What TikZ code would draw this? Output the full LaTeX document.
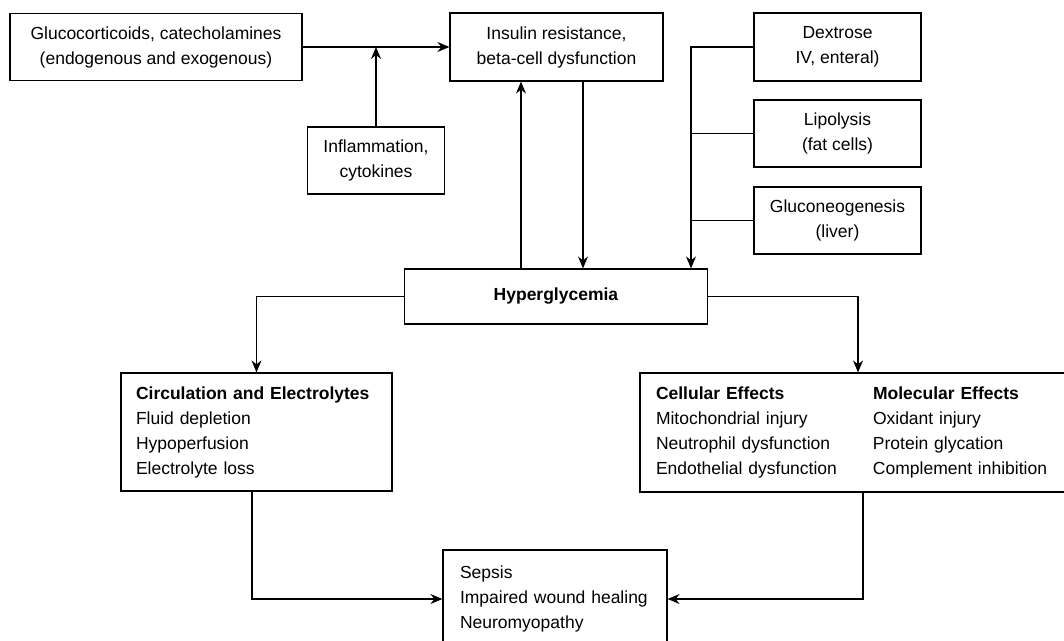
\documentclass[tikz,border=0pt]{standalone}
\usepackage{fontspec}
\setmainfont{Liberation Sans}
\usetikzlibrary{arrows.meta}
\begin{document}
\begin{tikzpicture}[x=1pt,y=-1pt,
  box/.style={draw, line width=1.2pt, inner sep=0pt, align=center, font=\fontsize{17.5}{25}\selectfont},
  listbox/.style={box, align=left},
  conn/.style={line width=1.2pt},
  arr/.style={conn, -{Stealth[length=12pt,width=10pt,inset=4pt]}}]
\useasboundingbox (0,0) rectangle (1064,640);
\clip (0,0) rectangle (1064,640);
% top row
\node[box, minimum width=292pt, minimum height=67pt] (gluco) at (156,47) {Glucocorticoids, catecholamines\\(endogenous and exogenous)};
\node[box, minimum width=213pt, minimum height=68pt] (insulin) at (556.5,47) {Insulin resistance,\\beta-cell dysfunction};
\node[box, minimum width=137pt, minimum height=67pt] (infl) at (376,160.5) {Inflammation,\\cytokines};
\node[box, minimum width=167pt, minimum height=68pt] (dex) at (837.5,47) {Dextrose\\IV, enteral)};
\node[box, minimum width=167pt, minimum height=67pt] (lipo) at (837.5,133.5) {Lipolysis\\(fat cells)};
\node[box, minimum width=167pt, minimum height=67pt] (gneo) at (837.5,220.5) {Gluconeogenesis\\(liver)};
% center
\node[box, minimum width=303pt, minimum height=55pt] (hyper) at (556,296.5) {\textbf{Hyperglycemia}};
% effects
\node[listbox, text width=241pt, inner xsep=15pt, minimum height=118pt] (circ) at (256.5,432) {\textbf{Circulation and Electrolytes}\\Fluid depletion\\Hypoperfusion\\Electrolyte loss};
\node[listbox, text width=404pt, inner xsep=16pt, minimum height=119pt] (cell) at (858,432.5) {\makebox[217pt][l]{\textbf{Cellular Effects}}\textbf{Molecular Effects}\\
\makebox[217pt][l]{Mitochondrial injury}Oxidant injury\\
\makebox[217pt][l]{Neutrophil dysfunction}Protein glycation\\
\makebox[217pt][l]{Endothelial dysfunction}Complement inhibition};
% outcome
\node[listbox, text width=190pt, inner xsep=17pt, minimum height=98pt] (sepsis) at (555,599) {Sepsis\\Impaired wound healing\\Neuromyopathy};
% junction points
\coordinate (jg) at (376,47);
\coordinate (jup) at (521,0);
\coordinate (jdown) at (583,0);
\coordinate (bus) at (691,0);
\coordinate (jl) at (252,0);
\coordinate (jr) at (863,0);
% connectors
\draw[arr] (gluco.east) -- (insulin.west);
\draw[arr] (infl.north) -- (jg);
\draw[arr] (jup |- hyper.north) -- (jup |- insulin.south);
\draw[arr] (jdown |- insulin.south) -- (jdown |- hyper.north);
\draw[arr] (dex.west) -- (bus |- dex.west) -- (bus |- hyper.north);
\draw[conn] (lipo.west) -- (bus |- lipo.west);
\draw[conn] (gneo.west) -- (bus |- gneo.west);
\draw[arr] (hyper.west) -| (circ.north);
\draw[arr] (hyper.east) -| (cell.north);
\draw[arr] (jl |- circ.south) |- (sepsis.west);
\draw[arr] (jr |- cell.south) |- (sepsis.east);
\end{tikzpicture}
\end{document}
